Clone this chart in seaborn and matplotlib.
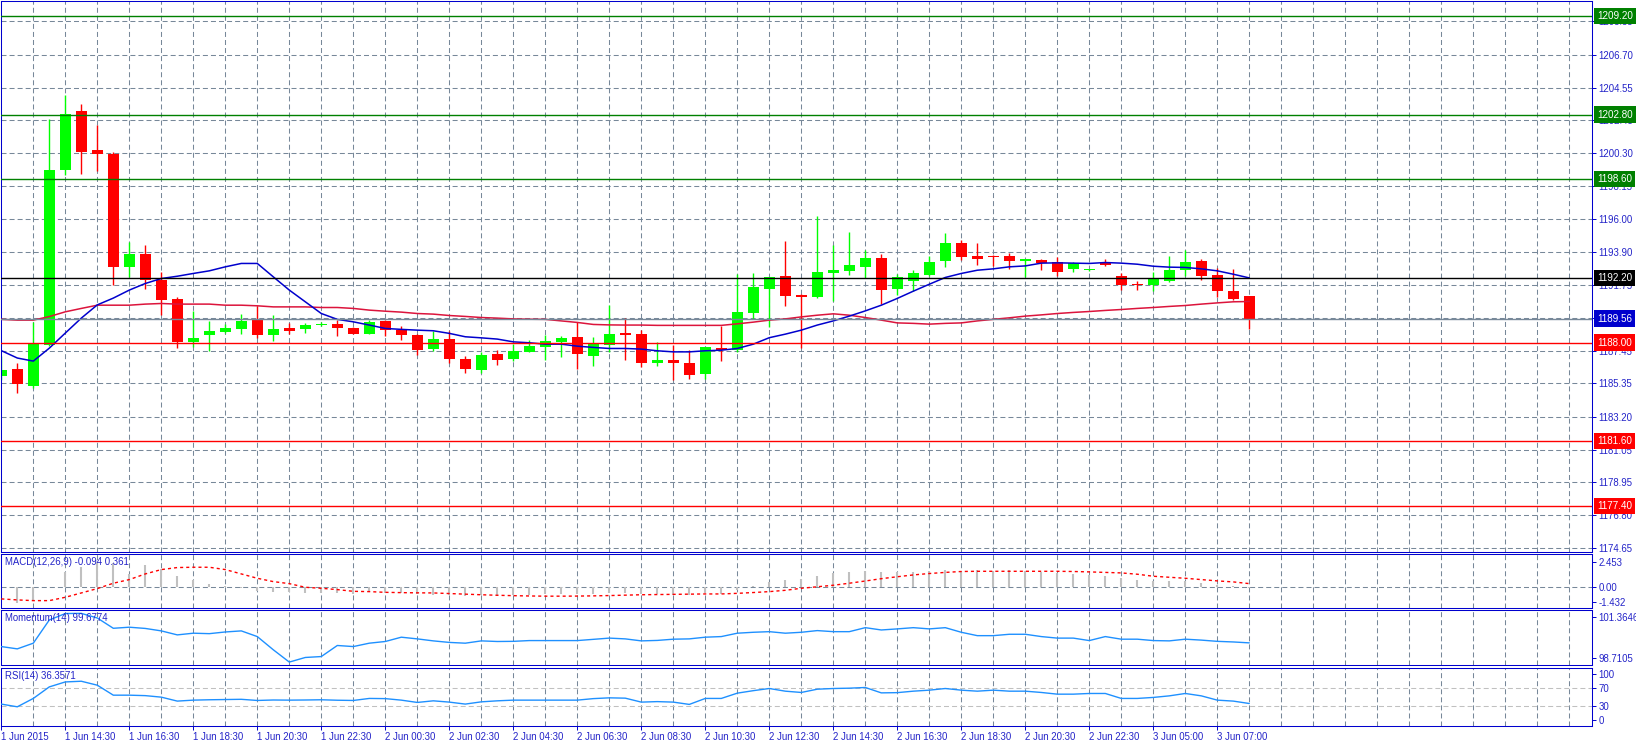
import matplotlib
matplotlib.use("Agg")
import matplotlib.pyplot as plt
import matplotlib.transforms as mtrans
import numpy as np
import pandas as pd
import seaborn as sns

# ---------------- data (30-minute candles, XAUUSD-like) ----------------
opens = [1185.82, 1186.28, 1185.17, 1187.83, 1199.18, 1203.01, 1200.48, 1200.22, 1192.91, 1193.78,
         1192.09, 1190.82, 1188.05, 1188.48, 1188.70, 1188.87, 1189.45, 1188.48, 1188.94, 1188.87,
         1189.15, 1189.20, 1188.94, 1188.57, 1189.39, 1188.85, 1188.48, 1187.57, 1188.22, 1186.93,
         1186.21, 1187.25, 1186.93, 1187.38, 1187.70, 1188.03, 1188.35, 1187.12, 1187.83, 1188.61,
         1188.55, 1186.67, 1186.86, 1186.67, 1185.95, 1187.64, 1187.51, 1189.91, 1191.47, 1192.31,
         1191.08, 1190.95, 1192.50, 1192.63, 1192.89, 1193.48, 1191.47, 1191.98, 1192.37, 1193.28,
         1194.45, 1193.61, 1193.61, 1193.61, 1193.28, 1193.35, 1193.22, 1192.76, 1192.70, 1193.22,
         1192.31, 1191.79, 1191.72, 1191.98, 1192.70, 1193.28, 1192.37, 1191.34, 1191.01]
highs = [1187.12, 1186.67, 1189.33, 1202.49, 1204.09, 1203.46, 1202.10, 1200.37, 1194.51, 1194.36,
         1192.57, 1190.97, 1190.04, 1189.39, 1189.24, 1189.86, 1190.36, 1189.78, 1189.28, 1189.28,
         1189.35, 1189.50, 1189.00, 1189.50, 1189.45, 1189.07, 1188.59, 1188.76, 1188.76, 1187.12,
         1187.40, 1187.51, 1187.94, 1188.16, 1188.48, 1188.44, 1189.32, 1188.35, 1190.43, 1189.58,
         1188.81, 1188.03, 1187.83, 1187.51, 1187.70, 1189.07, 1192.44, 1192.50, 1192.24, 1194.58,
         1191.14, 1196.20, 1194.32, 1195.16, 1194.00, 1193.74, 1192.44, 1192.70, 1193.61, 1195.10,
         1194.64, 1194.45, 1193.67, 1193.80, 1193.41, 1193.41, 1193.54, 1193.22, 1192.80, 1193.41,
         1192.50, 1191.98, 1192.57, 1193.61, 1194.00, 1193.41, 1192.83, 1192.76, 1191.01]
lows = [1185.56, 1184.72, 1185.04, 1187.77, 1198.86, 1198.92, 1199.12, 1191.73, 1192.26, 1191.49,
        1189.78, 1187.66, 1187.72, 1187.44, 1188.61, 1188.59, 1188.31, 1188.09, 1188.59, 1188.63,
        1189.09, 1188.44, 1188.55, 1188.55, 1188.44, 1188.20, 1187.18, 1187.44, 1186.69, 1186.02,
        1186.00, 1186.54, 1186.80, 1187.38, 1186.84, 1187.05, 1186.28, 1186.47, 1187.38, 1186.86,
        1186.41, 1186.47, 1185.56, 1185.63, 1185.63, 1186.80, 1187.38, 1189.52, 1189.00, 1190.36,
        1187.68, 1190.88, 1190.69, 1192.37, 1192.18, 1190.49, 1191.08, 1191.34, 1192.31, 1192.89,
        1193.35, 1193.02, 1192.96, 1192.76, 1192.26, 1192.70, 1192.31, 1192.57, 1192.67, 1192.96,
        1191.40, 1191.40, 1191.34, 1191.92, 1192.31, 1192.05, 1190.95, 1190.75, 1188.87]
closes = [1186.21, 1185.30, 1187.94, 1199.18, 1202.86, 1200.37, 1200.22, 1192.91, 1193.78, 1192.09,
          1190.75, 1188.05, 1188.27, 1188.74, 1188.92, 1189.39, 1188.48, 1188.87, 1188.74, 1189.13,
          1189.24, 1188.96, 1188.57, 1189.33, 1188.85, 1188.48, 1187.51, 1188.22, 1186.93, 1186.28,
          1187.18, 1186.86, 1187.44, 1187.77, 1188.09, 1188.29, 1187.25, 1187.90, 1188.55, 1188.48,
          1186.67, 1186.86, 1186.67, 1185.89, 1187.70, 1187.51, 1189.97, 1191.60, 1192.24, 1191.01,
          1190.95, 1192.57, 1192.70, 1193.02, 1193.48, 1191.40, 1192.24, 1192.50, 1193.22, 1194.45,
          1193.54, 1193.41, 1193.54, 1193.28, 1193.41, 1193.15, 1192.57, 1193.15, 1192.76, 1193.02,
          1191.72, 1191.72, 1192.11, 1192.70, 1193.22, 1192.31, 1191.34, 1190.82, 1189.56]

ma_fast = [1187.48, 1187.00, 1186.80, 1187.64, 1188.62, 1189.59, 1190.45, 1190.89, 1191.41, 1191.84,
           1192.16, 1192.31, 1192.49, 1192.66, 1192.92, 1193.14, 1193.14, 1192.27, 1191.41, 1190.65,
           1189.89, 1189.51, 1189.35, 1189.14, 1188.92, 1188.86, 1188.81, 1188.77, 1188.60, 1188.38,
           1188.31, 1188.23, 1188.05, 1187.99, 1187.90, 1187.90, 1187.77, 1187.69, 1187.62, 1187.62,
           1187.58, 1187.47, 1187.40, 1187.40, 1187.47, 1187.51, 1187.62, 1187.90, 1188.32, 1188.55,
           1188.81, 1189.14, 1189.41, 1189.72, 1190.06, 1190.43, 1190.87, 1191.34, 1191.79, 1192.23,
           1192.49, 1192.70, 1192.79, 1192.92, 1192.98, 1193.16, 1193.18, 1193.16, 1193.14, 1193.20,
           1193.16, 1193.09, 1192.96, 1192.90, 1192.88, 1192.79, 1192.66, 1192.44, 1192.20]
ma_slow = [1189.51, 1189.46, 1189.46, 1189.69, 1190.00, 1190.22, 1190.43, 1190.43, 1190.43, 1190.50,
           1190.54, 1190.50, 1190.50, 1190.50, 1190.43, 1190.43, 1190.39, 1190.32, 1190.32, 1190.32,
           1190.28, 1190.28, 1190.22, 1190.11, 1190.04, 1189.98, 1189.89, 1189.85, 1189.76, 1189.70,
           1189.63, 1189.59, 1189.54, 1189.52, 1189.51, 1189.41, 1189.31, 1189.18, 1189.15, 1189.14,
           1189.14, 1189.12, 1189.12, 1189.12, 1189.12, 1189.12, 1189.22, 1189.33, 1189.46, 1189.54,
           1189.67, 1189.78, 1189.87, 1189.78, 1189.63, 1189.46, 1189.28, 1189.25, 1189.20, 1189.25,
           1189.28, 1189.41, 1189.51, 1189.61, 1189.72, 1189.80, 1189.89, 1189.96, 1190.02, 1190.09,
           1190.15, 1190.22, 1190.28, 1190.35, 1190.41, 1190.50, 1190.58, 1190.65, 1190.67]

macd_main = [-1.15, -1.58, -1.39, 0.05, 1.49, 1.98, 2.45, 2.41, 1.32, 2.21,
             1.82, 1.16, 0.76, 0.36, 0.10, -0.10, -0.33, -0.43, -0.50, -0.59,
             -0.59, -0.56, -0.69, -0.50, -0.56, -0.56, -0.63, -0.73, -0.75, -0.85,
             -0.80, -0.85, -0.80, -0.75, -0.70, -0.65, -0.70, -0.70, -0.60, -0.60,
             -0.70, -0.70, -0.75, -0.80, -0.60, -0.62, -0.23, 0.10, 0.50, 0.73,
             0.83, 1.16, 1.39, 1.52, 1.62, 1.52, 1.55, 1.52, 1.62, 1.72,
             1.65, 1.72, 1.62, 1.72, 1.65, 1.55, 1.42, 1.32, 1.22, 1.12,
             0.92, 0.73, 0.66, 0.63, 0.66, 0.46, 0.23, 0.17, -0.094]
macd_signal = [-1.15, -1.25, -1.32, -1.32, -0.99, -0.56, -0.13, 0.40, 0.76, 1.32,
               1.75, 1.95, 1.98, 1.98, 1.75, 1.32, 0.89, 0.56, 0.36, 0.00,
               -0.10, -0.23, -0.40, -0.43, -0.50, -0.53, -0.55, -0.56, -0.62, -0.68,
               -0.74, -0.79, -0.83, -0.86, -0.88, -0.88, -0.87, -0.85, -0.82, -0.78,
               -0.74, -0.72, -0.70, -0.68, -0.66, -0.66, -0.60, -0.52, -0.43, -0.30,
               -0.10, 0.05, 0.20, 0.40, 0.62, 0.85, 1.04, 1.22, 1.36, 1.47,
               1.56, 1.58, 1.58, 1.58, 1.58, 1.58, 1.58, 1.56, 1.52, 1.47,
               1.42, 1.29, 1.09, 0.99, 0.89, 0.76, 0.63, 0.53, 0.361]

momentum = [99.44, 99.29, 99.66, 101.17, 101.59, 101.60, 101.30, 100.63, 100.70, 100.62,
            100.46, 100.20, 100.31, 100.28, 100.39, 100.46, 100.09, 99.23, 98.43, 98.73,
            98.79, 99.51, 99.44, 99.66, 99.77, 100.05, 99.94, 99.81, 99.71, 99.66,
            99.81, 99.77, 99.78, 99.83, 99.83, 99.83, 99.83, 99.91, 99.99, 99.94,
            99.81, 99.84, 99.92, 99.94, 100.05, 100.09, 100.31, 100.37, 100.41, 100.31,
            100.37, 100.48, 100.41, 100.41, 100.67, 100.52, 100.59, 100.67, 100.59, 100.67,
            100.37, 100.15, 100.15, 100.24, 100.24, 100.09, 99.99, 99.99, 99.83, 100.09,
            99.92, 99.92, 99.83, 99.81, 99.92, 99.86, 99.78, 99.74, 99.68]

rsi = [35.1, 29.2, 47.4, 72.5, 83.3, 84.8, 76.2, 54.5, 54.5, 53.5,
       50.2, 41.6, 43.7, 44.5, 45.0, 45.5, 43.0, 44.0, 43.7, 44.0,
       44.5, 43.5, 43.0, 47.4, 47.0, 43.7, 38.7, 42.2, 39.4, 35.1,
       40.0, 42.2, 43.7, 43.7, 43.7, 43.7, 43.7, 47.0, 48.7, 48.0,
       39.4, 40.5, 39.4, 34.4, 47.4, 47.4, 58.9, 64.3, 69.0, 63.2,
       60.4, 67.5, 69.0, 69.7, 71.2, 59.5, 60.0, 63.2, 65.4, 69.0,
       65.4, 63.2, 65.4, 63.2, 63.2, 60.4, 56.7, 56.7, 58.2, 58.2,
       47.4, 47.4, 49.6, 53.0, 58.2, 53.0, 43.7, 41.6, 36.36]

price_ticks = [1174.65, 1176.80, 1178.95, 1181.05, 1183.20, 1185.35, 1187.45, 1189.60,
               1191.75, 1193.90, 1196.00, 1198.15, 1200.30, 1202.45, 1204.55, 1206.70, 1208.85]
levels = [1209.20, 1202.80, 1198.60, 1192.20, 1189.56, 1188.00, 1181.60, 1177.40]
level_kinds = ["resist", "resist", "resist", "pivot", "price", "support", "support", "support"]

macd_ticks = [2.453, 0.0, -1.432]
macd_tick_labels = ["2.453", "0.00", "-1.432"]
mom_ticks = [101.3646, 98.7105]
mom_tick_labels = ["101.3646", "98.7105"]
rsi_ticks = [100, 70, 30, 0]
rsi_tick_labels = ["100", "70", "30", "0"]

time_labels = ["1 Jun 2015", "1 Jun 14:30", "1 Jun 16:30", "1 Jun 18:30", "1 Jun 20:30",
               "1 Jun 22:30", "2 Jun 00:30", "2 Jun 02:30", "2 Jun 04:30", "2 Jun 06:30",
               "2 Jun 08:30", "2 Jun 10:30", "2 Jun 12:30", "2 Jun 14:30", "2 Jun 16:30",
               "2 Jun 18:30", "2 Jun 20:30", "2 Jun 22:30", "3 Jun 05:00", "3 Jun 07:00"]
time_label_bars = [0, 4, 8, 12, 16, 20, 24, 28, 32, 36, 40, 44, 48, 52, 56, 60, 64, 68, 72, 76]

macd_title = "MACD(12,26,9) -0.094 0.361"
mom_title = "Momentum(14) 99.6774"
rsi_title = "RSI(14) 36.3571"

# ---------------- style ----------------
sns.set_theme(style="white")
plt.rcParams["font.family"] = ["Liberation Sans", "DejaVu Sans"]
plt.rcParams["lines.scale_dashes"] = False

BORDER = "#0000CD"
TEXT = "#2323c8"
GRID = "#778899"
BULL = "#00FF00"
BEAR = "#FF0000"
FS = 6.9
DASH = (0, (3.6, 2.2))
kind_color = {"resist": "#008000", "pivot": "#000000", "price": "#0000CD", "support": "#FF0000"}
kind_line = {"resist": "#008000", "pivot": "#000000", "price": "#778899", "support": "#FF0000"}

W, H = 1636, 747
fig = plt.figure(figsize=(W / 100, H / 100), dpi=100, facecolor="white")


def rect(x0, x1, y0, y1):
    return [x0 / W, 1 - y1 / H, (x1 - x0) / W, (y1 - y0) / H]


ax_main = fig.add_axes(rect(1, 1592, 0.5, 551.5))
ax_macd = fig.add_axes(rect(1, 1592, 554, 607.5))
ax_mom = fig.add_axes(rect(1, 1592, 610.0, 665.0))
ax_rsi = fig.add_axes(rect(1, 1592, 668.0, 725.7))
axes = [ax_main, ax_macd, ax_mom, ax_rsi]

bars = np.arange(len(closes))
df = pd.DataFrame({"bar": bars, "open": opens, "high": highs, "low": lows, "close": closes,
                   "fast": ma_fast, "slow": ma_slow, "macd": macd_main, "signal": macd_signal,
                   "mom": momentum, "rsi": rsi})

for ax in axes:
    ax.set_xlim(-0.3 / 16, 1590.7 / 16)
    ax.set_facecolor("white")
    for s in ax.spines.values():
        s.set_visible(True)
        s.set_color(BORDER)
        s.set_linewidth(0.75)
    ax.yaxis.tick_right()
    ax.tick_params(axis="y", which="both", left=False, right=True, labelleft=False, labelright=True,
                   colors=BORDER, labelcolor=TEXT, labelsize=FS, length=3, width=0.7, pad=1.5,
                   direction="out")
    ax.tick_params(axis="x", bottom=False, labelbottom=False)
    ax.grid(False)
    for k in range(2, 99, 2):
        ax.axvline(k, color=GRID, lw=0.75, ls=DASH, zorder=0.5)
    ax.set_xlabel("")
    ax.set_ylabel("")

# ---------------- main price panel ----------------
ax_main.set_ylim(1174.44, 1210.21)
ax_main.set_yticks(price_ticks)
ax_main.set_yticklabels([f"{t:.2f}" for t in price_ticks])
for t in price_ticks:
    ax_main.axhline(t, color=GRID, lw=0.75, ls=DASH, zorder=0.5)

body_w = 0.68
for _, r in df.iterrows():
    col = BULL if r["close"] >= r["open"] else BEAR
    ax_main.vlines(r["bar"], r["low"], r["high"], color=col, lw=1.0, zorder=2)
    lo = min(r["open"], r["close"])
    h = max(abs(r["close"] - r["open"]), 0.07)
    ax_main.bar(r["bar"], h, bottom=lo, width=body_w, color=col, linewidth=0, zorder=2.1)

sns.lineplot(data=df, x="bar", y="slow", ax=ax_main, color="#DC143C", lw=1.1, zorder=3, sort=False)
sns.lineplot(data=df, x="bar", y="fast", ax=ax_main, color="#0000CD", lw=1.1, zorder=3.1, sort=False)

blend = mtrans.blended_transform_factory(ax_main.transAxes, ax_main.transData)
for lv, kind in zip(levels, level_kinds):
    ax_main.axhline(lv, color=kind_line[kind], lw=1.0, zorder=4)
    ax_main.text(1.0 + 5.0 / 1591, lv, f"{lv:.2f}", transform=blend, ha="left", va="center",
                 fontsize=FS + 0.2, color="white", clip_on=False, zorder=10,
                 bbox=dict(boxstyle="square,pad=0.32", fc=kind_color[kind], ec=kind_color[kind], lw=0))
ax_main.set_xlabel("")
ax_main.set_ylabel("")

# ---------------- MACD panel ----------------
ax_macd.set_ylim(-2.0, 3.29)
ax_macd.set_yticks(macd_ticks)
ax_macd.set_yticklabels(macd_tick_labels)
ax_macd.axhline(0, color=GRID, lw=0.75, ls=DASH, zorder=0.5)
ax_macd.vlines(df["bar"], 0, df["macd"], color="#C0C0C0", lw=1.5, zorder=2)
sns.lineplot(data=df, x="bar", y="signal", ax=ax_macd, color="#FF0000", lw=1.0,
             linestyle=(0, (2.2, 2.2)), zorder=3, sort=False)
ax_macd.text(4 / 1591, 1 - 3 / 53.5, macd_title, transform=ax_macd.transAxes, ha="left", va="top",
             fontsize=FS, color=TEXT, zorder=5)

# ---------------- Momentum panel ----------------
ax_mom.set_ylim(98.24, 101.82)
ax_mom.set_yticks(mom_ticks)
ax_mom.set_yticklabels(mom_tick_labels)
sns.lineplot(data=df, x="bar", y="mom", ax=ax_mom, color="#1E90FF", lw=1.0, zorder=3, sort=False)
ax_mom.text(4 / 1591, 1 - 3 / 55, mom_title, transform=ax_mom.transAxes, ha="left", va="top",
            fontsize=FS, color=TEXT, zorder=5)

# ---------------- RSI panel ----------------
ax_rsi.set_ylim(-11.9, 113.6)
ax_rsi.set_yticks(rsi_ticks)
ax_rsi.set_yticklabels(rsi_tick_labels)
for lv in (70, 30):
    ax_rsi.axhline(lv, color="#C0C0C0", lw=0.75, ls=DASH, zorder=0.6)
sns.lineplot(data=df, x="bar", y="rsi", ax=ax_rsi, color="#1E90FF", lw=1.0, zorder=3, sort=False)
ax_rsi.text(4 / 1591, 1 - 3 / 58, rsi_title, transform=ax_rsi.transAxes, ha="left", va="top",
            fontsize=FS, color=TEXT, zorder=5)

ax_rsi.set_xticks(time_label_bars)
ax_rsi.set_xticklabels(time_labels, ha="left")
ax_rsi.tick_params(axis="x", bottom=True, labelbottom=True, length=3, width=0.7, color=BORDER,
                   labelcolor=TEXT, labelsize=FS, pad=1.5, direction="out")

for ax in axes:
    ax.set_xlabel("")
    ax.set_ylabel("")

fig.savefig("out.png", dpi=100, facecolor="white")
